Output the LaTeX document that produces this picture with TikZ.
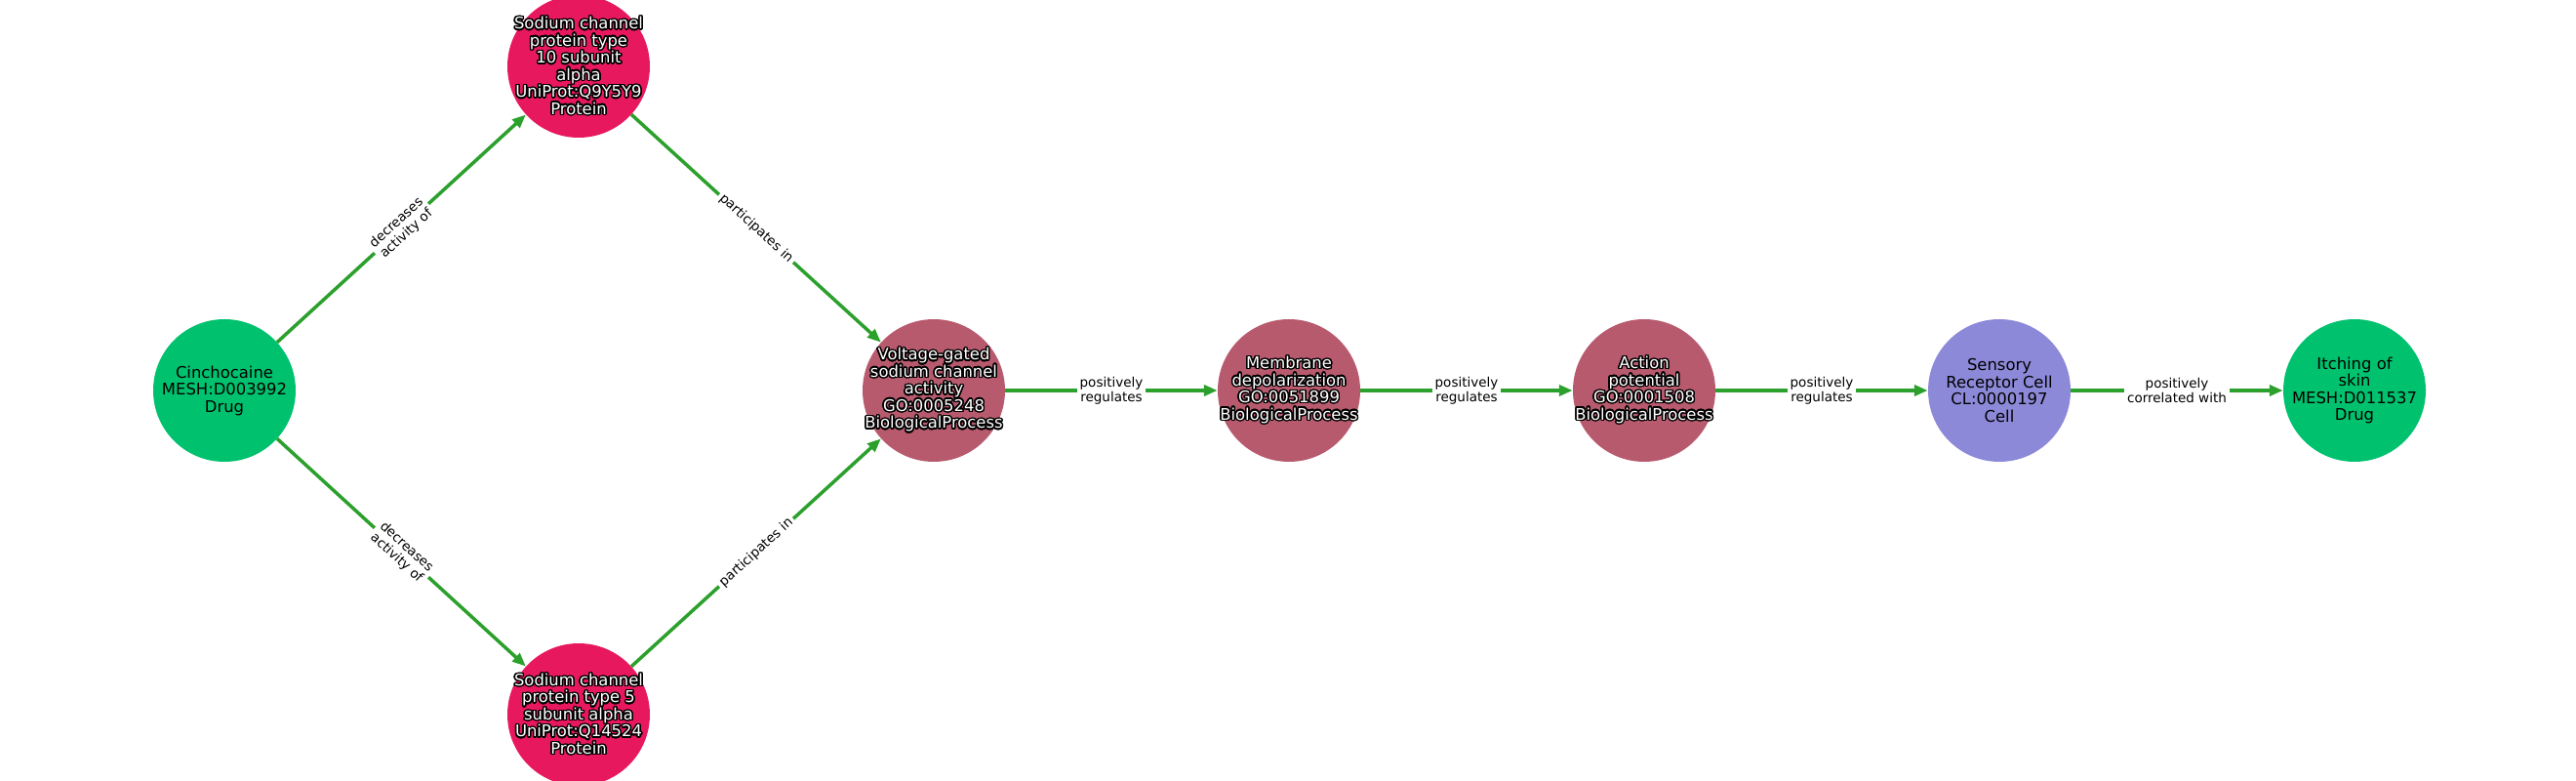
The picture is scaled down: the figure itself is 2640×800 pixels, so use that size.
\documentclass[tikz,border=0pt]{standalone}
\usepackage{fontspec}
\setmainfont{DejaVu Sans}
\usepackage[copies]{contour}
\contournumber{24}
\contourlength{1.4pt}
\usetikzlibrary{arrows.meta}
\definecolor{drugc}{RGB}{0,194,110}
\definecolor{protc}{RGB}{232,24,95}
\definecolor{bpc}{RGB}{184,90,110}
\definecolor{cellc}{RGB}{140,137,216}
\definecolor{edgec}{RGB}{44,160,44}
\newcommand\ol[1]{\contour{black}{#1}}
\tikzset{
 ent/.style={circle, minimum size=146pt, inner sep=0pt},
 drug/.style={ent, fill=drugc},
 prot/.style={ent, fill=protc},
 bp/.style={ent, fill=bpc},
 cell/.style={ent, fill=cellc},
 txt/.style={inner sep=0pt, align=center, font=\fontsize{16.4}{17.5}\selectfont, text=black},
 wtxt/.style={txt, text=white},
 rel/.style={draw=edgec, line width=3.5pt, -{Triangle[length=14pt,width=11pt]}},
 lab/.style={fill=white, inner sep=3pt, align=center, font=\fontsize{13.5}{15}\selectfont, text=black}
}
\begin{document}
\begin{tikzpicture}[x=1pt,y=1pt]
\useasboundingbox (0,0) rectangle (2640,800);
\node[drug] (cin) at (230,400) {};
\node[prot] (s10) at (593,732) {};
\node[prot] (s5) at (593,68) {};
\node[bp] (vg) at (957,400) {};
\node[bp] (md) at (1321,400) {};
\node[bp] (ap) at (1685,400) {};
\node[cell] (src) at (2049,400) {};
\node[drug] (itch) at (2413,400) {};
\node[txt] (cin-t) at (cin) {Cinchocaine\\MESH:D003992\\Drug};
\node[wtxt] (s10-t) at (s10) {\ol{Sodium channel}\\\ol{protein type}\\\ol{10 subunit}\\\ol{alpha}\\\ol{UniProt:Q9Y5Y9}\\\ol{Protein}};
\node[wtxt] (s5-t) at (s5) {\ol{Sodium channel}\\\ol{protein type 5}\\\ol{subunit alpha}\\\ol{UniProt:Q14524}\\\ol{Protein}};
\node[wtxt] (vg-t) at (vg) {\ol{Voltage-gated}\\\ol{sodium channel}\\\ol{activity}\\\ol{GO:0005248}\\\ol{BiologicalProcess}};
\node[wtxt] (md-t) at (md) {\ol{Membrane}\\\ol{depolarization}\\\ol{GO:0051899}\\\ol{BiologicalProcess}};
\node[wtxt] (ap-t) at (ap) {\ol{Action}\\\ol{potential}\\\ol{GO:0001508}\\\ol{BiologicalProcess}};
\node[txt] (src-t) at (src) {Sensory\\Receptor Cell\\CL:0000197\\Cell};
\node[txt] (itch-t) at (itch) {Itching of\\skin\\MESH:D011537\\Drug};
\draw[rel] (cin) -- node[lab, sloped] {decreases\\activity of} (s10);
\draw[rel] (cin) -- node[lab, sloped] {decreases\\activity of} (s5);
\draw[rel] (s10) -- node[lab, sloped] {participates in} (vg);
\draw[rel] (s5) -- node[lab, sloped] {participates in} (vg);
\draw[rel] (vg) -- node[lab] {positively\\regulates} (md);
\draw[rel] (md) -- node[lab] {positively\\regulates} (ap);
\draw[rel] (ap) -- node[lab] {positively\\regulates} (src);
\draw[rel] (src) -- node[lab] {positively\\correlated with} (itch);
\end{tikzpicture}
\end{document}
